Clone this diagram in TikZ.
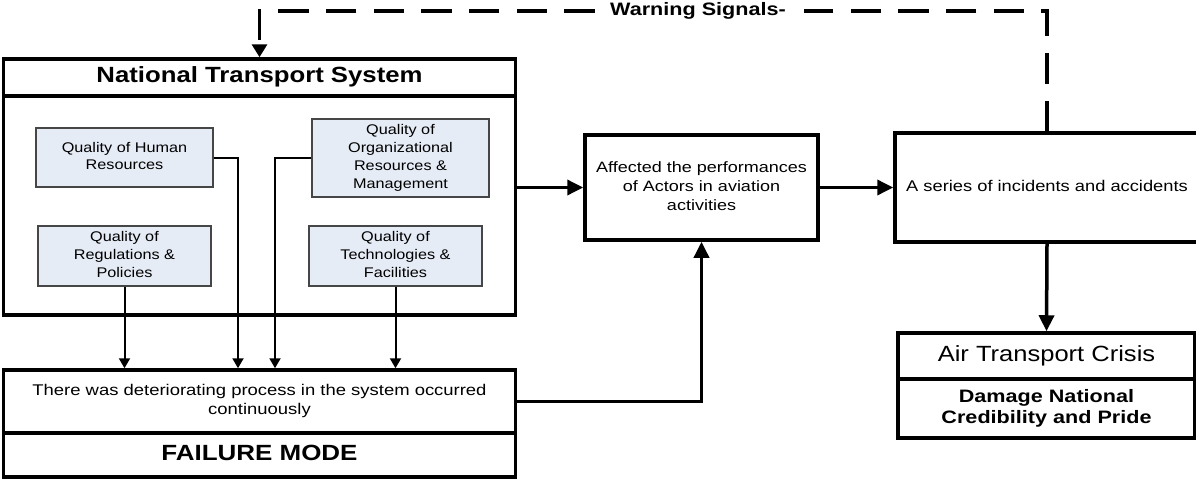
\documentclass[tikz,border=0pt]{standalone}
\usepackage{graphicx}
\usepackage{fontspec}
\setmainfont{Liberation Sans}
\usetikzlibrary{arrows.meta}

% horizontally widened, centred block of text
\newcommand\wt[2]{\scalebox{#1}[1]{\begin{tabular}{@{}c@{}}#2\end{tabular}}}

\definecolor{qfill}{RGB}{230,236,246}
\definecolor{qline}{RGB}{70,70,70}

\pgfdeclarelayer{behind}
\pgfsetlayers{behind,main}

\tikzset{
  bigbox/.style={draw=black, line width=3.5pt, fill=white, inner sep=0pt},
  qualbox/.style={draw=qline, line width=1.2pt, fill=qfill, inner sep=0pt,
    font=\fontsize{14}{17.8}\selectfont},
  thinarrow/.style={line width=2pt, -{Triangle[length=10pt,width=11pt]}},
  thickarrow/.style={line width=3.5pt, -{Triangle[length=16pt,width=15pt]}},
  warnline/.style={line width=3.5pt, dash pattern=on 30.5pt off 17.2pt,
    -{Triangle[length=13pt,width=15pt]}},
}

\begin{document}
\begin{tikzpicture}[x=1pt, y=-1pt]
\clip (0,0) rectangle (1196,479);

% National Transport System frame and title bar
\node[bigbox, minimum width=512pt, minimum height=219pt] (nts) at (259.5,205.5) {};
\node[bigbox, minimum width=512pt, minimum height=37pt,
      font=\fontsize{22}{26}\selectfont\bfseries] (ntstitle) at (259.5,77.5)
      {\wt{1.17}{National Transport System}};

% quality factors inside the system
\node[qualbox, minimum width=177pt, minimum height=59pt] (human) at (124.5,157.5)
      {\wt{1.16}{Quality of Human\\Resources}};
\node[qualbox, minimum width=177pt, minimum height=78pt] (org) at (400.5,158)
      {\wt{1.16}{Quality of\\Organizational\\Resources \&\\Management}};
\node[qualbox, minimum width=173pt, minimum height=60pt] (regs) at (124.5,256)
      {\wt{1.16}{Quality of\\Regulations \&\\Policies}};
\node[qualbox, minimum width=173pt, minimum height=60pt] (tech) at (395.5,256)
      {\wt{1.16}{Quality of\\Technologies \&\\Facilities}};

% failure mode block
\node[bigbox, minimum width=512pt, minimum height=63pt,
      font=\fontsize{15.5}{19}\selectfont] (failtext) at (259.5,401.5)
      {\wt{1.19}{There was deteriorating process in the system occurred\\continuously}};
\node[bigbox, minimum width=512pt, minimum height=44pt,
      font=\fontsize{22}{26}\selectfont\bfseries] (failmode) at (259.5,455)
      {\wt{1.18}{FAILURE MODE}};

% middle and right blocks
\node[bigbox, minimum width=233pt, minimum height=105pt,
      font=\fontsize{15}{19}\selectfont] (affected) at (701.5,187.5)
      {\wt{1.2}{Affected the performances\\of Actors in aviation\\activities}};
\node[bigbox, minimum width=304pt, minimum height=109pt,
      font=\fontsize{15.5}{19}\selectfont] (series) at (1047,187.5)
      {\wt{1.18}{A series of incidents and accidents}};
\node[bigbox, minimum width=297pt, minimum height=46pt,
      font=\fontsize{22}{26}\selectfont] (crisis) at (1046.5,356)
      {\wt{1.16}{Air Transport Crisis}};
\node[bigbox, minimum width=297pt, minimum height=59pt,
      font=\fontsize{18}{21}\selectfont\bfseries] (damage) at (1046.5,408.5)
      {\wt{1.2}{Damage National\\Credibility and Pride}};

% bend points of the factor connectors
\coordinate (hx) at (238,0);
\coordinate (ox) at (275,0);

% factors feeding the deteriorating process
\draw[thinarrow] (human.east) -| (failtext.north -| hx);
\draw[thinarrow] (org.west) -| (failtext.north -| ox);
\draw[thinarrow] (regs.south) -- (regs.south |- failtext.north);
\draw[thinarrow] (tech.south) -- (tech.south |- failtext.north);

% main causal chain
\draw[thickarrow] (nts.east |- affected.west) -- (affected.west);
\draw[thickarrow] (affected.east) -- (series.west);
\draw[thickarrow] (failtext.east) -| (affected.south);
\draw[thickarrow] (series.south) -- (crisis.north);

% feedback of warning signals, label sitting on the dashed line
\node[fill=white, inner xsep=0pt, inner ysep=3pt,
      font=\fontsize{18}{21}\selectfont\bfseries] (warn) at (700.5,11)
      {\hspace*{13pt}\wt{1.2}{Warning Signals-}\hspace*{18pt}};
\begin{pgfonlayer}{behind}
\draw[warnline] (series.north) |- (warn.center) -| (ntstitle.north);
\end{pgfonlayer}
\end{tikzpicture}
\end{document}
